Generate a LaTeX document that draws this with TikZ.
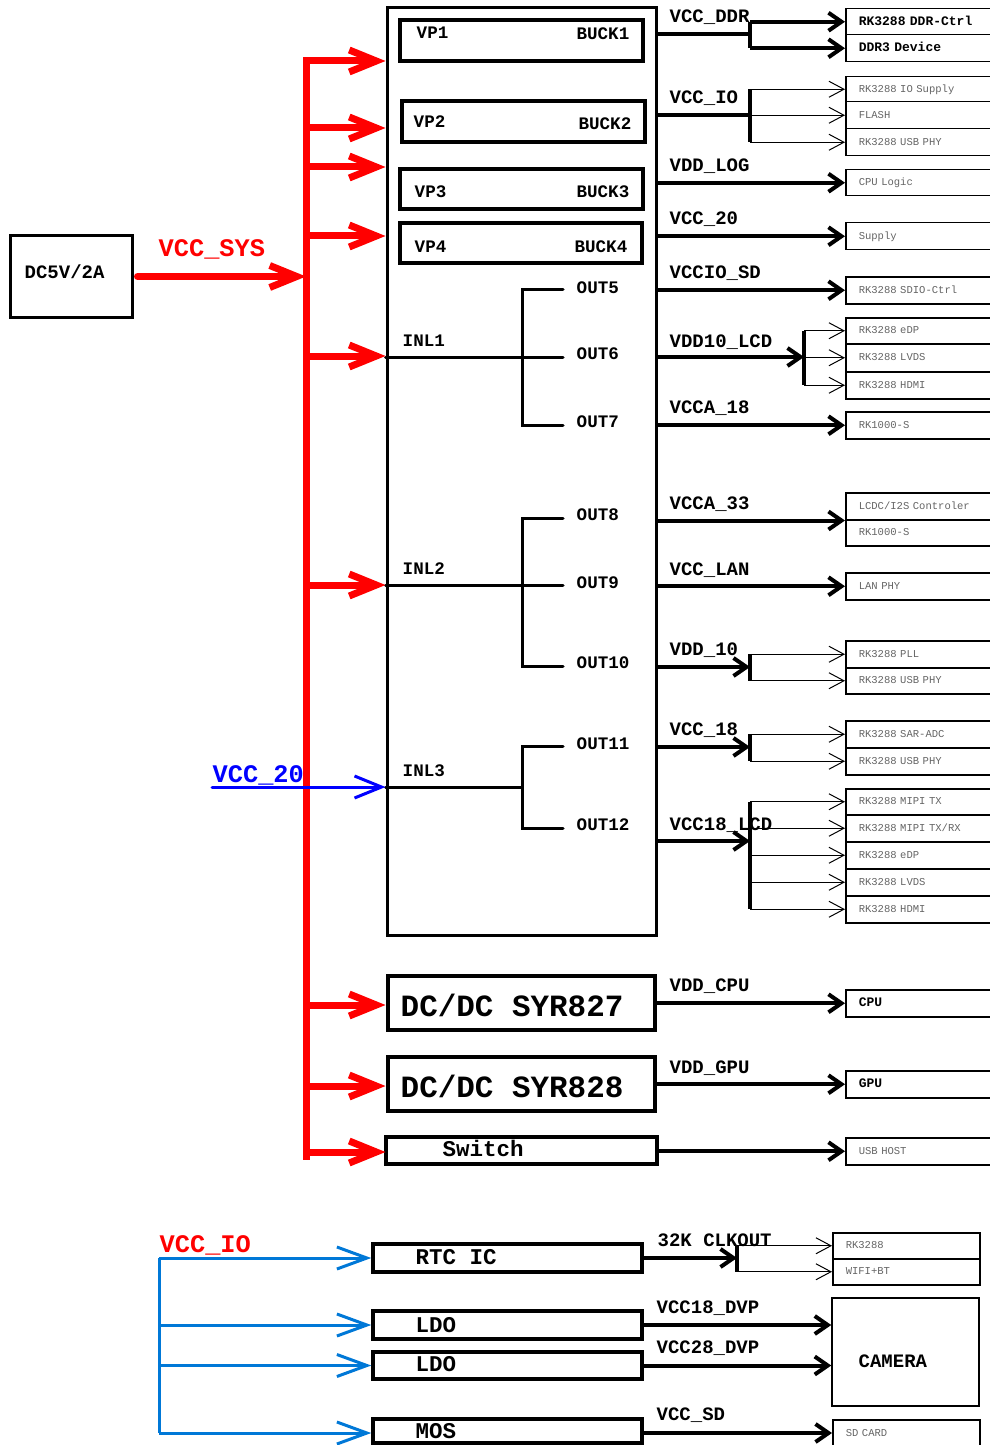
\documentclass[tikz,border=0pt]{standalone}
\usepackage{fontspec}
\setmainfont{Liberation Mono}
\usetikzlibrary{arrows.meta}
\newdimen\pxu \pxu=0.1mm
\definecolor{iobus}{RGB}{0,120,215}
\definecolor{dimtext}{RGB}{100,100,100}
\newcommand\fnet{\fontsize{5.4}{6}\selectfont\bfseries}
\newcommand\fpin{\fontsize{5.0}{6}\selectfont\bfseries}
\newcommand\fbig{\fontsize{7.2}{8}\selectfont\bfseries}
\newcommand\fdcdc{\fontsize{8.8}{10}\selectfont\bfseries}
\newcommand\fblk{\fontsize{6.4}{7}\selectfont\bfseries}
\newcommand\fload{\fontsize{3.7}{4}\selectfont\bfseries}
\newcommand\fdim{\fontsize{3.0}{4}\selectfont}

\begin{document}
\begin{tikzpicture}[x=1\pxu, y=-1\pxu,
    blk/.style={draw, line width=3\pxu, inner sep=0pt},
    net/.style={anchor=base west, inner sep=0pt, font=\fnet},
    pin/.style={anchor=base west, inner sep=0pt, font=\fpin},
    supply/.style={red, line width=7\pxu, -{Straight Barb[length=2.7mm,width=2.2mm]}},
    iofeed/.style={iobus, line width=3\pxu, -{Straight Barb[length=3mm,width=2.2mm]}},
    rail/.style={line width=4\pxu, -{Straight Barb[length=1.3mm,width=1.8mm]}},
    bar/.style={line width=4\pxu},
    tap/.style={line width=1\pxu, -{Straight Barb[length=1.5mm,width=1.6mm]}},
    ldoline/.style={line width=3\pxu, line cap=round},
    load/.style={draw, line width=1.5\pxu, anchor=north west, text width=120\pxu,
        inner xsep=13\pxu, inner ysep=0pt, align=left, font=\fload,
        text height=2.1pt, text depth=0pt},
    dload/.style={load, font=\fdim, text=dimtext, text height=1.7pt},
    sload/.style={dload, text width=121\pxu}]
    \useasboundingbox (0,0) rectangle (989,1445);
    %%%%% INPUT %%%%%
    \node[blk, minimum width=122\pxu, minimum height=81\pxu] (src) at (71,276.5) {};
    \node[net] (srct) at (24,278) {DC5V/2A};

    %%%%% PMU %%%%%
    \node[blk, minimum width=269\pxu, minimum height=927\pxu] (pmu) at (521.5,471.5) {};
    \node[blk, line width=3.5\pxu, minimum width=243\pxu, minimum height=41\pxu] (buck1) at (521.5,40.5) {};
    \node[blk, line width=3.5\pxu, minimum width=243\pxu, minimum height=41\pxu] (buck2) at (523.5,121.5) {};
    \node[blk, line width=3.5\pxu, minimum width=243\pxu, minimum height=40\pxu] (buck3) at (521.5,189) {};
    \node[blk, line width=3.5\pxu, minimum width=242\pxu, minimum height=40\pxu] (buck4) at (521,243) {};
    \node[pin] (vp1) at (416,39) {VP1};
    \node[pin, anchor=base east] (bk1) at (630,40) {BUCK1};
    \node[pin] (vp2) at (413,128) {VP2};
    \node[pin, anchor=base east] (bk2) at (632,130) {BUCK2};
    \node[pin] (vp3) at (414,198) {VP3};
    \node[pin, anchor=base east] (bk3) at (630,198) {BUCK3};
    \node[pin] (vp4) at (414,252) {VP4};
    \node[pin, anchor=base east] (bk4) at (628,252) {BUCK4};

    % LDO inputs and outputs
    \coordinate (inl1) at (522,357);
    \coordinate (inl2) at (522,585);
    \coordinate (inl3) at (522,787);
    \draw[ldoline] (pmu.west |- inl1) -- (inl1) -- (563,357);
    \draw[ldoline] (563,289) -- (522,289) -- (522,425) -- (563,425);
    \draw[ldoline] (pmu.west |- inl2) -- (inl2) -- (563,585);
    \draw[ldoline] (563,518) -- (522,518) -- (522,666) -- (563,666);
    \draw[ldoline] (pmu.west |- inl3) -- (inl3);
    \draw[ldoline] (563,746) -- (522,746) -- (522,828) -- (563,828);
    \node[pin] (inl1t) at (402,346) {INL1};
    \node[pin] (inl2t) at (402,574) {INL2};
    \node[pin] (inl3t) at (402,776) {INL3};
    \node[pin] (out5) at (576,293) {OUT5};
    \node[pin] (out6) at (576,359) {OUT6};
    \node[pin] (out7) at (576,427) {OUT7};
    \node[pin] (out8) at (576,520) {OUT8};
    \node[pin] (out9) at (576,588) {OUT9};
    \node[pin] (out10) at (576,668) {OUT10};
    \node[pin] (out11) at (576,749) {OUT11};
    \node[pin] (out12) at (576,830) {OUT12};

    %%%%% DC/DC %%%%%
    \node[blk, line width=3.5\pxu, minimum width=267\pxu, minimum height=54\pxu] (dc1) at (521.5,1003) {};
    \node[blk, line width=3.5\pxu, minimum width=267\pxu, minimum height=54\pxu] (dc2) at (521.5,1084) {};
    \node[blk, line width=3.5\pxu, minimum width=271\pxu, minimum height=27\pxu] (sw) at (521.5,1150.5) {};
    \node[net, font=\fdcdc] (dc1t) at (400,1016) {DC/DC SYR827};
    \node[net, font=\fdcdc] (dc2t) at (400,1097) {DC/DC SYR828};
    \node[net, font=\fblk] (swt) at (442,1156) {Switch};

    %%%%% VCC_SYS %%%%%
    \coordinate (bustop) at (306,57.5);
    \coordinate (busbot) at (306,1160);
    \draw[red, line width=7\pxu] (bustop) -- (busbot);
    \draw[supply, line cap=round] (src.east) ++(4,0) -- (bustop |- src.east);
    \foreach \y in {61,128,167,236,356,585,1005,1086,1152}
        \draw[supply] (bustop |- 0,\y) -- (pmu.west |- 0,\y);
    \node[net, font=\fbig, text=red] (vsys) at (158,257) {VCC\_SYS};

    \coordinate (v20) at (212,787);
    \draw[blue, line width=3\pxu, line cap=round, -{Straight Barb[length=2.7mm,width=2.2mm]}] (v20) -- (pmu.west |- v20);
    \node[net, font=\fbig, text=blue] (v20t) at (212,782) {VCC\_20};

    %%%%% LOADS %%%%%
    \node[load, minimum height=26\pxu] (ddrc) at (845,8) {RK3288 DDR-Ctrl};
    \node[load, minimum height=27\pxu] (ddr3) at (845,34) {DDR3 Device};
    \node[dload, minimum height=25\pxu] (io1) at (845,76) {RK3288 IO Supply};
    \node[dload, minimum height=27\pxu] (io2) at (845,101) {FLASH};
    \node[dload, minimum height=27\pxu] (io3) at (845,128) {RK3288 USB PHY};
    \node[dload, minimum height=26\pxu] (cpul) at (845,169) {CPU Logic};
    \node[dload, minimum height=27\pxu] (sup) at (845,222) {Supply};
    \node[dload, minimum height=27\pxu] (sdio) at (845,276) {RK3288 SDIO-Ctrl};
    \node[dload, minimum height=26\pxu] (lcd1) at (845,317) {RK3288 eDP};
    \node[dload, minimum height=28\pxu] (lcd2) at (845,343) {RK3288 LVDS};
    \node[dload, minimum height=27\pxu] (lcd3) at (845,371) {RK3288 HDMI};
    \node[dload, minimum height=27\pxu] (rk1) at (845,411) {RK1000-S};
    \node[dload, minimum height=27\pxu] (i2s) at (845,492) {LCDC/I2S Controler};
    \node[dload, minimum height=26\pxu] (rk2) at (845,519) {RK1000-S};
    \node[dload, minimum height=27\pxu] (lan) at (845,572) {LAN PHY};
    \node[dload, minimum height=27\pxu] (pll) at (845,640) {RK3288 PLL};
    \node[dload, minimum height=26\pxu] (usb2) at (845,667) {RK3288 USB PHY};
    \node[dload, minimum height=27\pxu] (adc) at (845,720) {RK3288 SAR-ADC};
    \node[dload, minimum height=27\pxu] (usb3) at (845,747) {RK3288 USB PHY};
    \node[dload, minimum height=26\pxu] (mtx) at (845,788) {RK3288 MIPI TX};
    \node[dload, minimum height=27\pxu] (mrx) at (845,814) {RK3288 MIPI TX/RX};
    \node[dload, minimum height=27\pxu] (edp) at (845,841) {RK3288 eDP};
    \node[dload, minimum height=27\pxu] (lvds) at (845,868) {RK3288 LVDS};
    \node[dload, minimum height=27\pxu] (hdmi) at (845,895) {RK3288 HDMI};
    \node[load, minimum height=27\pxu] (cpu) at (845,989) {CPU};
    \node[load, minimum height=27\pxu] (gpu) at (845,1070) {GPU};
    \node[dload, minimum height=27\pxu] (usbh) at (845,1137) {USB HOST};

    %%%%% OUTPUT RAILS %%%%%
    \coordinate (jddr) at (750,34);
    \draw[bar] (pmu.east |- jddr) -- (jddr);
    \draw[bar] (jddr |- ddrc.west) -- (jddr |- ddr3.west);
    \foreach \n in {ddrc,ddr3} \draw[rail] (jddr |- \n.west) -- (\n.west);

    \coordinate (jio) at (750,115);
    \draw[bar] (pmu.east |- jio) -- (jio);
    \draw[bar] (jio |- io1.west) -- (jio |- io3.west);
    \foreach \n in {io1,io2,io3} \draw[tap] (jio |- \n.west) -- (\n.west);

    \foreach \n in {cpul,sup,sdio,rk1,lan} \draw[rail] (pmu.east |- \n.west) -- (\n.west);
    \draw[rail] (pmu.east |- i2s.south west) -- (i2s.south west);

    \coordinate (jlcd) at (804,357);
    \draw[rail] (pmu.east |- jlcd) -- (jlcd);
    \draw[bar] (jlcd |- lcd1.west) -- (jlcd |- lcd3.west);
    \foreach \n in {lcd1,lcd2,lcd3} \draw[tap] (jlcd |- \n.west) -- (\n.west);

    \coordinate (j10) at (750,667);
    \draw[rail] (pmu.east |- j10) -- (j10);
    \draw[bar] (j10 |- pll.west) -- (j10 |- usb2.west);
    \foreach \n in {pll,usb2} \draw[tap] (j10 |- \n.west) -- (\n.west);

    \coordinate (j18) at (750,747);
    \draw[rail] (pmu.east |- j18) -- (j18);
    \draw[bar] (j18 |- adc.west) -- (j18 |- usb3.west);
    \foreach \n in {adc,usb3} \draw[tap] (j18 |- \n.west) -- (\n.west);

    \coordinate (j18lcd) at (750,841);
    \draw[rail] (pmu.east |- j18lcd) -- (j18lcd);
    \draw[bar] (j18lcd |- mtx.west) -- (j18lcd |- hdmi.west);
    \foreach \n in {mtx,mrx,edp,lvds,hdmi} \draw[tap] (j18lcd |- \n.west) -- (\n.west);

    \draw[rail] (dc1.east |- cpu.west) -- (cpu.west);
    \draw[rail] (dc2.east |- gpu.west) -- (gpu.west);
    \draw[rail] (sw.east |- usbh.west) -- (usbh.west);

    \node[net] (nddr) at (669,23) {VCC\_DDR};
    \node[net] (nio) at (669,104) {VCC\_IO};
    \node[net] (nlog) at (669,172) {VDD\_LOG};
    \node[net] (n20) at (669,225) {VCC\_20};
    \node[net] (nsd) at (669,279) {VCCIO\_SD};
    \node[net] (nlcd) at (669,347) {VDD10\_LCD};
    \node[net] (na18) at (669,413) {VCCA\_18};
    \node[net] (na33) at (669,509) {VCCA\_33};
    \node[net] (nlan) at (669,575) {VCC\_LAN};
    \node[net] (n10) at (669,655) {VDD\_10};
    \node[net] (n18) at (669,735) {VCC\_18};
    \node[net] (n18lcd) at (669,830) {VCC18\_LCD};
    \node[net] (ncpu) at (669,991) {VDD\_CPU};
    \node[net] (ngpu) at (669,1073) {VDD\_GPU};

    %%%%% VCC_IO SECTION %%%%%
    \node[blk, line width=3.5\pxu, minimum width=269\pxu, minimum height=28\pxu] (rtc) at (507.5,1258) {};
    \node[blk, line width=3.5\pxu, minimum width=269\pxu, minimum height=28\pxu] (ldo1) at (507.5,1325) {};
    \node[blk, line width=3.5\pxu, minimum width=269\pxu, minimum height=27\pxu] (ldo2) at (507.5,1365.5) {};
    \node[blk, line width=3.5\pxu, minimum width=269\pxu, minimum height=24\pxu] (mos) at (507.5,1431) {};
    \node[net, font=\fblk] (rtct) at (415,1264) {RTC IC};
    \node[net, font=\fblk] (ldo1t) at (415,1332) {LDO};
    \node[net, font=\fblk] (ldo2t) at (415,1371) {LDO};
    \node[net, font=\fblk] (most) at (415,1438) {MOS};

    \coordinate (iotop) at (159,1258);
    \coordinate (iobot) at (159,1433);
    \draw[iobus, line width=3\pxu] (iotop) -- (iobot);
    \draw[iofeed] (iotop) -- (rtc.west);
    \draw[iofeed] (iotop |- ldo1.west) -- (ldo1.west);
    \draw[iofeed] (iotop |- ldo2.west) -- (ldo2.west);
    \draw[iofeed] (iobot) -- (mos.west |- iobot);
    \node[net, font=\fbig, text=red] (vio) at (159,1252) {VCC\_IO};

    \node[sload, minimum height=26\pxu] (rk) at (832,1232) {RK3288};
    \node[sload, minimum height=26\pxu] (wifi) at (832,1258) {WIFI+BT};
    \node[draw, line width=1.5\pxu, minimum width=147\pxu, minimum height=108\pxu] (cam) at (905.5,1352) {};
    \node[net] (camt) at (858,1367) {CAMERA};
    \node[sload, minimum height=27\pxu] (sdc) at (832,1419) {SD CARD};

    \coordinate (jclk) at (737,1258);
    \draw[rail] (rtc.east) -- (jclk);
    \draw[bar] (jclk |- rk.west) -- (jclk |- wifi.west);
    \foreach \n in {rk,wifi} \draw[tap] (jclk |- \n.west) -- (\n.west);
    \draw[rail] (ldo1.east) -- (cam.west |- ldo1.east);
    \draw[rail] (ldo2.east) -- (cam.west |- ldo2.east);
    \draw[rail] (mos.east |- iobot) -- (sdc.west |- iobot);

    \node[net] (nclk) at (657,1246) {32K CLKOUT};
    \node[net] (ndvp1) at (656,1313) {VCC18\_DVP};
    \node[net] (ndvp2) at (656,1353) {VCC28\_DVP};
    \node[net] (nsdc) at (656,1420) {VCC\_SD};
\end{tikzpicture}
\end{document}
